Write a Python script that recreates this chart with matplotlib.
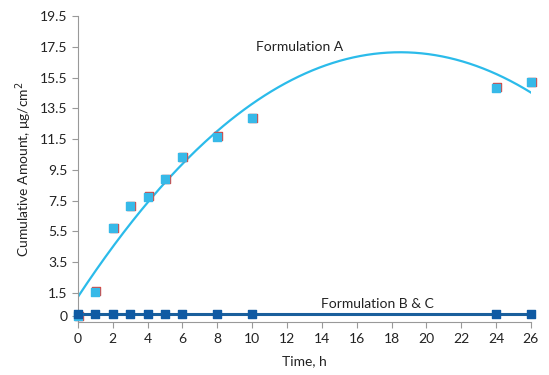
import numpy as np
import matplotlib.pyplot as plt

plt.rcParams['font.family'] = ['Lato', 'DejaVu Sans']

# Formulation A (two overlapping sets of squares)
time_a = [0, 1, 2, 3, 4, 5, 6, 8, 10, 24, 26]
amount_a = [0.0, 1.56, 5.72, 7.15, 7.74, 8.9, 10.34, 11.64, 12.87, 14.8, 15.2]
amount_a2 = [0.0, 1.64, 5.72, 7.15, 7.82, 8.9, 10.34, 11.72, 12.87, 14.88, 15.22]
# quadratic trendline coefficients for A (a*x^2 + b*x + c)
trend_a = [-0.0465, 1.72, 1.245]

# Formulation B & C
time_bc = [0, 1, 2, 3, 4, 5, 6, 8, 10, 24, 26]
amount_bc = [0.1, 0.1, 0.1, 0.1, 0.1, 0.1, 0.1, 0.1, 0.1, 0.1, 0.1]

yticks = [0, 1.5, 3.5, 5.5, 7.5, 9.5, 11.5, 13.5, 15.5, 17.5, 19.5]
xticks = list(range(0, 27, 2))

fig = plt.figure(figsize=(5.49, 3.75), dpi=100)
ax = fig.add_axes([0.142, 0.141, 0.825, 0.816])

xs = np.linspace(0, 26, 200)
ax.plot(xs, np.polyval(trend_a, xs), color='#2bbbea', lw=1.6, zorder=2)

ax.scatter(np.array(time_a) + 0.05, amount_a2, marker='s', s=38, color='#d9453f', zorder=3, clip_on=False)
ax.scatter(time_a, amount_a, marker='s', s=38, color='#37b9e8', zorder=4, clip_on=False)

ax.plot(time_bc, amount_bc, color='#1a5f9c', lw=2.2, zorder=3)
ax.scatter(time_bc, amount_bc, marker='s', s=38, color='#0f5aa3', zorder=5, clip_on=False)

ax.text(12.7, 17.5, 'Formulation A', ha='center', va='center', fontsize=10, color='#222222')
ax.text(17.2, 0.8, 'Formulation B & C', ha='center', va='center', fontsize=10, color='#222222')

ax.set_xlim(0, 26)
ax.set_ylim(-0.4, 19.5)
ax.set_xticks(xticks)
ax.set_yticks(yticks)
ax.set_yticklabels([('%g' % v) if v == 0 else ('%.1f' % v) for v in yticks])
ax.tick_params(labelsize=10, color='#999999', length=4, labelcolor='#222222')
for s in ['top', 'right']:
    ax.spines[s].set_visible(False)
for s in ['left', 'bottom']:
    ax.spines[s].set_color('#999999')

ax.set_xlabel('Time, h', fontsize=10, color='#222222', labelpad=8)
ax.set_ylabel('Cumulative Amount, μg/cm$^2$', fontsize=10, color='#222222', labelpad=4)

fig.savefig('out.png', dpi=100)
